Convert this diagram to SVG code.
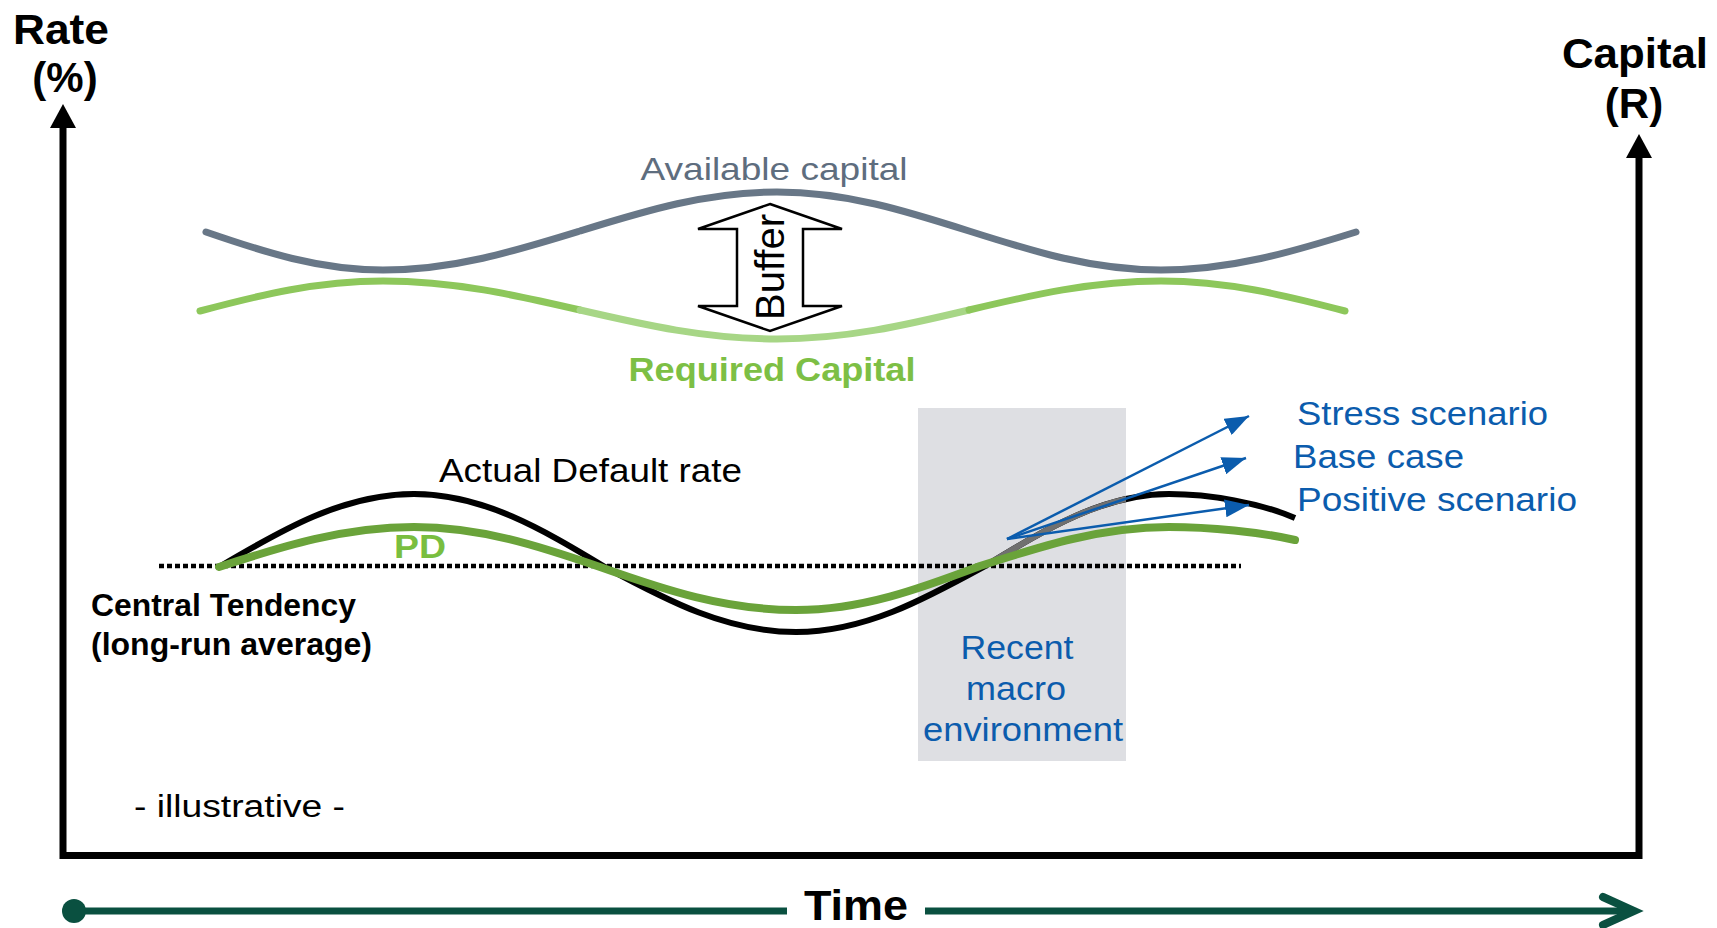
<svg xmlns="http://www.w3.org/2000/svg" width="1717" height="928" viewBox="0 0 1717 928">
  <style>
    text { font-family: "Liberation Sans", Arial, sans-serif; }
    .bold { font-weight: bold; }
    .axis { fill: none; stroke: #000; stroke-width: 7; stroke-linejoin: miter; }
    .blue { fill: #0B5CAD; }
    .scen { stroke: #0B5CAD; stroke-width: 2.5; fill: none; }
    .cap { fill: none; stroke-width: 7; stroke-linecap: round; }
  </style>
  <defs>
    <marker id="bh" markerUnits="userSpaceOnUse" markerWidth="26" markerHeight="18" refX="24" refY="9" orient="auto">
      <path d="M0,0 L24,9 L0,18 Z" fill="#0B5CAD"/>
    </marker>
    <clipPath id="grayclip"><rect x="975" y="400" width="151" height="166"/></clipPath>
  </defs>

  <g id="recent-macro">
    <rect x="918" y="408" width="208" height="353" fill="#DEDFE3"/>
    <text class="blue" font-size="34" text-anchor="middle"><tspan x="1017" y="659" textLength="113" lengthAdjust="spacingAndGlyphs">Recent</tspan><tspan x="1016" y="700" textLength="100" lengthAdjust="spacingAndGlyphs">macro</tspan><tspan x="1023" y="741" textLength="200" lengthAdjust="spacingAndGlyphs">environment</tspan></text>
  </g>

  <g id="axes">
    <path class="axis" d="M63,124 L63,855.5 L1639,855.5 L1639,154"/>
    <polygon points="63,104 76,128 50,128" fill="#000"/>
    <polygon points="1639,134 1652,158 1626,158" fill="#000"/>
    <text class="bold" font-size="42" x="61" y="44" text-anchor="middle" textLength="96" lengthAdjust="spacingAndGlyphs">Rate</text>
    <text class="bold" font-size="42" x="65" y="92" text-anchor="middle">(%)</text>
    <text class="bold" font-size="42" x="1635" y="68" text-anchor="middle" textLength="146" lengthAdjust="spacingAndGlyphs">Capital</text>
    <text class="bold" font-size="42" x="1634" y="118" text-anchor="middle">(R)</text>
  </g>

  <g id="time-axis">
    <circle cx="74" cy="911" r="12" fill="#0A5040"/>
    <line x1="74" y1="911" x2="787" y2="911" stroke="#0A5040" stroke-width="7"/>
    <line x1="925" y1="911" x2="1632" y2="911" stroke="#0A5040" stroke-width="7"/>
    <polyline points="1603,897 1634,911 1603,925" fill="none" stroke="#0A5040" stroke-width="8" stroke-linecap="round"/>
    <text class="bold" font-size="42" x="856" y="920" text-anchor="middle" textLength="104" lengthAdjust="spacingAndGlyphs">Time</text>
  </g>

  <g id="available-capital">
    <path class="cap" stroke="#687787" d="M206,232 C264,252 319,270 383,270 C454,270 515,251 580,231 C645,211 706,192 777,192 C846,192 906,211 969,231 C1032,251 1092,270 1161,270 C1231,270 1292,252 1356,232"/>
    <text font-size="32" x="774" y="180" text-anchor="middle" fill="#5E6D7E" textLength="267" lengthAdjust="spacingAndGlyphs">Available capital</text>
  </g>

  <g id="required-capital">
    <path class="cap" stroke="#8DC75B" d="M200,311 C260,295 317,281 383,281 C454,281 515,295 580,310"/>
    <path class="cap" stroke="#A7D686" d="M580,310 C645,325 706,339 777,339 C846,339 906,325 969,310"/>
    <path class="cap" stroke="#8DC75B" d="M969,310 C1032,295 1092,281 1161,281 C1227,281 1284,295 1345,311"/>
    <text class="bold" font-size="34" x="772" y="381" text-anchor="middle" fill="#7DBF45" textLength="287" lengthAdjust="spacingAndGlyphs">Required Capital</text>
  </g>

  <g id="buffer">
    <polygon points="770,204 842,229 803,229 803,306 842,306 770,331 698,306 737,306 737,229 698,229" fill="#fff" stroke="#000" stroke-width="2.5"/>
    <text font-size="40" transform="translate(784,267) rotate(-90)" text-anchor="middle">Buffer</text>
  </g>

  <g id="central-tendency">
    <line x1="159" y1="566" x2="1241" y2="566" stroke="#000" stroke-width="4.5" stroke-dasharray="5 3"/>
    <text class="bold" font-size="31" x="91" y="616" textLength="265" lengthAdjust="spacingAndGlyphs">Central Tendency</text>
    <text class="bold" font-size="31" x="91" y="655" textLength="281" lengthAdjust="spacingAndGlyphs">(long-run average)</text>
  </g>

  <g id="actual-default-rate">
    <path fill="none" stroke="#000" stroke-width="6" d="M219,567 C283,529 344,494 414,494 C483,494 542,529 605,567 C668,601 727,632 796,632 C864,632 923,600 985,566 C1046,529 1103,494 1169,494 C1210,494 1260,503 1295,518"/>
    <path fill="none" stroke="#707070" stroke-width="6" clip-path="url(#grayclip)" d="M985,566 C1046,529 1103,494 1169,494"/>
    <text font-size="33" x="439" y="482" textLength="303" lengthAdjust="spacingAndGlyphs">Actual Default rate</text>
  </g>

  <g id="pd">
    <path fill="none" stroke="#6AA33A" stroke-width="8" stroke-linecap="round" d="M219,567 C283,546 344,527 414,527 C481,527 539,546 600,567 C665,590 725,610 796,610 C862,610 919,589 980,566 C1042,546 1101,527 1169,527 C1210,527 1260,532 1295,540"/>
    <text class="bold" font-size="34" x="394" y="558" fill="#79BE3F" textLength="52" lengthAdjust="spacingAndGlyphs">PD</text>
  </g>

  <g id="connectors">
    <line class="scen" x1="1007" y1="539" x2="1249" y2="416" marker-end="url(#bh)"/>
    <line class="scen" x1="1007" y1="539" x2="1246" y2="458" marker-end="url(#bh)"/>
    <line class="scen" x1="1007" y1="539" x2="1249" y2="505" marker-end="url(#bh)"/>
  </g>

  <g id="scenarios">
    <text class="blue" font-size="33" x="1297" y="425" textLength="251" lengthAdjust="spacingAndGlyphs">Stress scenario</text>
    <text class="blue" font-size="33" x="1293" y="468" textLength="171" lengthAdjust="spacingAndGlyphs">Base case</text>
    <text class="blue" font-size="33" x="1297" y="511" textLength="280" lengthAdjust="spacingAndGlyphs">Positive scenario</text>
  </g>

  <g id="illustrative">
    <text font-size="31" x="134" y="817" textLength="211" lengthAdjust="spacingAndGlyphs">- illustrative -</text>
  </g>
</svg>
